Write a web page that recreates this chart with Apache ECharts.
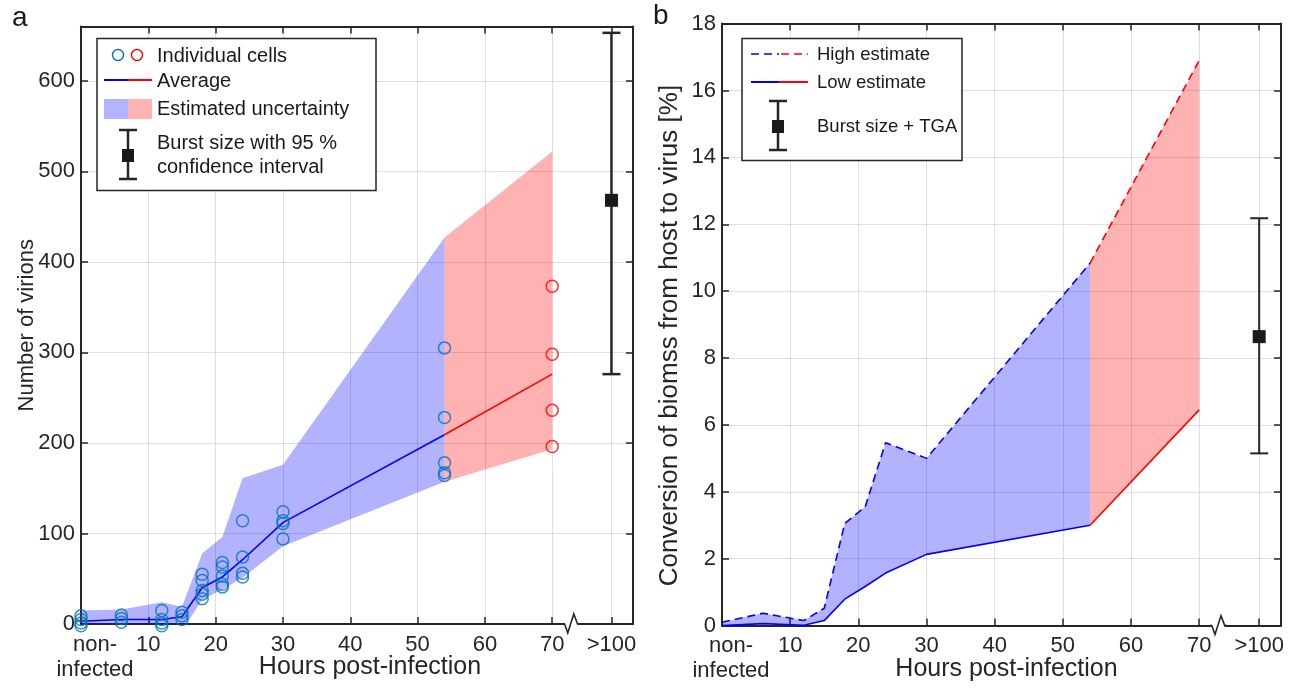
<!DOCTYPE html>
<html><head><meta charset="utf-8">
<script src="https://cdn.jsdelivr.net/npm/echarts@6/dist/echarts.min.js"></script>
<style>html,body{margin:0;padding:0;background:#fff}#c{width:1299px;height:689px}</style>
</head><body><div id="c"></div>
<script>
// ---------- shared axis ticks ----------
const xTicks = [0, 10, 20, 30, 40, 50, 60, 70, 78.8];
const xTickLabels = ['non-\ninfected', '10', '20', '30', '40', '50', '60', '70', '>100'];
const breakX = 72.8;
const yTicksA = [0, 100, 200, 300, 400, 500, 600];
const yTicksB = [0, 2, 4, 6, 8, 10, 12, 14, 16, 18];

// ---------- panel a ----------
const aCellsBlueX = [0,0,0,0, 6,6,6, 12,12,12,12, 15,15,15, 18,18,18,18,18, 21,21,21,21,21, 24,24,24,24, 30,30,30,30, 54,54,54,54,54];
const aCellsBlueY = [9,5,1,-2, 10,6,2, 15,5,1,-2, 13,9,5, 55,48,37,33,28, 68,63,53,44,41, 114,74,56,52, 124,114,111,94, 305,228,178,167,164];
const aCellsRedX = [70, 70, 70, 70];
const aCellsRedY = [373, 298, 236, 196];
const aTimeBlue = [0, 6, 12, 15, 18, 21, 24, 30, 54];
const aAvgBlue = [3, 5, 5, 8, 40, 52, 71, 112, 209];
const aBandBlueLow = [-5, -5, -5, -8, 27, 38, 51, 86, 157];
const aBandBlueHigh = [15, 16, 24, 19, 78, 96, 161, 176, 427];
const aTimeRed = [54, 70];
const aAvgRed = [209, 276];
const aBandRedLow = [157, 193];
const aBandRedHigh = [427, 522];
const aBurst = [78.8, 468, 276, 653]; // x, mean, low, high

// ---------- panel b ----------
const bTimeBlue = [0, 6, 12, 15, 18, 21, 24, 30, 54];
const bHighBlue = [0.1, 0.37, 0.15, 0.52, 3.05, 3.55, 5.47, 5.0, 10.84];
const bLowBlue = [0, 0.06, 0.01, 0.15, 0.79, 1.17, 1.57, 2.13, 3.0];
const bTimeRed = [54, 70];
const bHighRed = [10.84, 16.9];
const bLowRed = [3.0, 6.45];
const bBurst = [78.8, 8.64, 5.15, 12.18];

// ---------- styling ----------
const FONT = 'Liberation Sans, Arial, sans-serif';
const AX = '#262626';
const GRIDC = 'rgba(38,38,38,0.15)';
const BLUE = '#0000ff', RED = '#ff0000';
const CIRC_BLUE = '#0072bd';
const FILL_BLUE = 'rgba(0,0,255,0.3)', FILL_RED = 'rgba(255,0,0,0.3)';

const zip = (xs, ys) => xs.map((x, i) => [x, ys[i]]);

function xAxes(gridIndex, shift, namePad) {
  const fmt = v => {
    const i = xTicks.indexOf(v);
    const t = i >= 0 ? xTickLabels[i] : '';
    return i === 0 ? '{ni|' + t + '}' : t;
  };
  return [{
    type: 'value', gridIndex, position: 'bottom', min: 0, max: 82,
    axisLine: { show: true, onZero: false, lineStyle: { color: AX, width: 2 } },
    axisTick: { show: true, inside: true, length: 7, customValues: xTicks, lineStyle: { color: AX, width: 1.5 } },
    axisLabel: { customValues: xTicks, formatter: fmt, margin: 8, fontSize: 22, color: AX, fontFamily: FONT, lineHeight: 25,
      rich: { ni: { fontSize: 22, color: AX, fontFamily: FONT, lineHeight: 25, padding: [0, 0, 0, shift] } } },
    splitLine: { show: true, lineStyle: { color: GRIDC, width: 1 } },
    name: 'Hours post-infection', nameLocation: 'middle', nameGap: 31, nameMoveOverlap: false,
    nameTextStyle: { fontSize: 25, color: AX, fontFamily: FONT, padding: [0, 0, 0, namePad] }
  }, {
    type: 'value', gridIndex, position: 'top', min: 0, max: 82,
    axisLine: { show: true, onZero: false, lineStyle: { color: AX, width: 2 } },
    axisTick: { show: true, inside: true, length: 7, customValues: xTicks, lineStyle: { color: AX, width: 1.5 } },
    axisLabel: { show: false }, splitLine: { show: false }
  }];
}
function yAxes(gridIndex, max, ticks, name, gap, nameSize, namePadR) {
  return [{
    type: 'value', gridIndex, position: 'left', min: 0, max,
    axisLine: { show: true, onZero: false, lineStyle: { color: AX, width: 2 } },
    axisTick: { show: true, inside: true, length: 7, customValues: ticks, lineStyle: { color: AX, width: 1.5 } },
    axisLabel: { customValues: ticks, margin: 6, fontSize: 22, color: AX, fontFamily: FONT },
    splitLine: { show: true, lineStyle: { color: GRIDC, width: 1 } },
    name, nameLocation: 'middle', nameGap: gap, nameMoveOverlap: false,
    nameTextStyle: { fontSize: nameSize, color: AX, fontFamily: FONT, padding: [0, namePadR, 0, 0] }
  }, {
    type: 'value', gridIndex, position: 'right', min: 0, max,
    axisLine: { show: true, onZero: false, lineStyle: { color: AX, width: 2 } },
    axisTick: { show: true, inside: true, length: 7, customValues: ticks, lineStyle: { color: AX, width: 1.5 } },
    axisLabel: { show: false }, splitLine: { show: false }
  }];
}

// band drawn as one polygon through the axis scales
function bandSeries(xi, yi, xs, lo, hi, fill) {
  return {
    type: 'custom', xAxisIndex: xi, yAxisIndex: yi, data: xs.map((x, i) => [x, lo[i], hi[i]]),
    encode: { x: 0, y: [1, 2] }, clip: true, z: 1, silent: true,
    renderItem(params, api) {
      if (params.dataIndex !== 0) return null;
      const top = xs.map((x, i) => api.coord([x, hi[i]]));
      const bot = xs.map((x, i) => api.coord([x, lo[i]])).reverse();
      return { type: 'polygon', shape: { points: top.concat(bot) }, style: { fill, stroke: null } };
    }
  };
}
function lineSeries(xi, yi, xs, ys, color, dashed) {
  return {
    type: 'line', xAxisIndex: xi, yAxisIndex: yi, data: zip(xs, ys), symbol: 'none',
    lineStyle: { color, width: 1.6, type: dashed ? [8, 5] : 'solid' }, z: 3, silent: true
  };
}
function scatterSeries(xs, ys, color) {
  return {
    type: 'scatter', xAxisIndex: 0, yAxisIndex: 0, data: zip(xs, ys), symbol: 'circle', symbolSize: 12,
    itemStyle: { color: 'rgba(0,0,0,0)', borderColor: color, borderWidth: 1.5 }, clip: false, z: 4, silent: true
  };
}
function burstSeries(xi, yi, b, lw) {
  return {
    type: 'custom', xAxisIndex: xi, yAxisIndex: yi, data: [b], encode: { x: 0, y: 1 }, clip: false, z: 5, silent: true,
    renderItem(params, api) {
      const x = api.value(0);
      const c = api.coord([x, api.value(1)]);
      const lo = api.coord([x, api.value(2)]);
      const hi = api.coord([x, api.value(3)]);
      const cap = 9, s = 6.5;
      const st = { stroke: AX, lineWidth: lw };
      return { type: 'group', children: [
        { type: 'line', shape: { x1: c[0], y1: lo[1], x2: c[0], y2: hi[1] }, style: st },
        { type: 'line', shape: { x1: c[0] - cap, y1: lo[1], x2: c[0] + cap, y2: lo[1] }, style: st },
        { type: 'line', shape: { x1: c[0] - cap, y1: hi[1], x2: c[0] + cap, y2: hi[1] }, style: st },
        { type: 'rect', shape: { x: c[0] - s, y: c[1] - s, width: 2 * s, height: 2 * s }, style: { fill: '#1a1a1a' } }
      ] };
    }
  };
}
function breakSeries(xi, yi) {
  return {
    type: 'custom', xAxisIndex: xi, yAxisIndex: yi, data: [[breakX, 0]], encode: { x: 0, y: 1 }, clip: false, z: 10, silent: true,
    renderItem(params, api) {
      const p = api.coord([api.value(0), api.value(1)]);
      return { type: 'group', children: [
        { type: 'line', shape: { x1: p[0] - 6.5, y1: p[1], x2: p[0] + 6.5, y2: p[1] }, style: { stroke: '#fff', lineWidth: 4 } },
        { type: 'polyline', shape: { points: [[p[0] - 9, p[1]], [p[0] - 6.5, p[1]], [p[0] - 3.3, p[1] + 9], [p[0] + 2.7, p[1] - 10], [p[0] + 6.5, p[1]], [p[0] + 9, p[1]]] },
          style: { stroke: AX, fill: null, lineWidth: 1.6 } }
      ] };
    }
  };
}

// ---------- legends (graphic) ----------
const T = (x, y, text, size) => ({ type: 'text', x, y, style: { text, font: size + 'px ' + FONT, fill: '#1a1a1a', verticalAlign: 'middle', align: 'left' } });
const L = (x1, y1, x2, y2, stroke, w, dash) => ({ type: 'line', shape: { x1, y1, x2, y2 }, style: { stroke, lineWidth: w, lineDash: dash || null } });
function errGlyph(x, yTop, yBot, yc) {
  return [L(x, yTop, x, yBot, AX, 2.5), L(x - 9, yTop, x + 9, yTop, AX, 2.5), L(x - 9, yBot, x + 9, yBot, AX, 2.5),
    { type: 'rect', shape: { x: x - 6, y: yc - 6.5, width: 12, height: 13 }, style: { fill: '#1a1a1a' } }];
}
const graphics = [
  { type: 'text', x: 12, y: 18, style: { text: 'a', font: '28px ' + FONT, fill: '#1a1a1a', verticalAlign: 'middle' } },
  { type: 'text', x: 653, y: 16, style: { text: 'b', font: '28px ' + FONT, fill: '#1a1a1a', verticalAlign: 'middle' } },
  // legend a
  { type: 'rect', shape: { x: 97, y: 38.5, width: 279, height: 152 }, style: { fill: '#fff', stroke: AX, lineWidth: 1.5 }, z: 20 },
  { type: 'circle', shape: { cx: 118, cy: 55, r: 5.5 }, style: { fill: null, stroke: CIRC_BLUE, lineWidth: 1.4 }, z: 21 },
  { type: 'circle', shape: { cx: 137, cy: 55, r: 5.5 }, style: { fill: null, stroke: RED, lineWidth: 1.4 }, z: 21 },
  Object.assign(T(157, 56, 'Individual cells', 20), { z: 21 }),
  Object.assign(L(104, 80, 128, 80, BLUE, 2), { z: 21 }),
  Object.assign(L(128, 80, 152, 80, RED, 2), { z: 21 }),
  Object.assign(T(157, 81, 'Average', 20), { z: 21 }),
  { type: 'rect', shape: { x: 104, y: 99, width: 24, height: 20 }, style: { fill: '#b3b3ff' }, z: 21 },
  { type: 'rect', shape: { x: 128, y: 99, width: 24, height: 20 }, style: { fill: '#ffb3b3' }, z: 21 },
  Object.assign(T(157, 109, 'Estimated uncertainty', 20), { z: 21 }),
  ...errGlyph(128, 130, 179, 155.5).map(g => Object.assign(g, { z: 21 })),
  Object.assign(T(157, 143, 'Burst size with 95 %', 20), { z: 21 }),
  Object.assign(T(157, 167, 'confidence interval', 20), { z: 21 }),
  // legend b
  { type: 'rect', shape: { x: 742, y: 38.5, width: 220, height: 122 }, style: { fill: '#fff', stroke: AX, lineWidth: 1.5 }, z: 20 },
  Object.assign(L(751, 54, 779, 54, BLUE, 1.6, [8, 5]), { z: 21 }),
  Object.assign(L(781, 54, 808, 54, RED, 1.6, [8, 5]), { z: 21 }),
  Object.assign(T(817, 55, 'High estimate', 18.5), { z: 21 }),
  Object.assign(L(751, 82, 779, 82, BLUE, 2), { z: 21 }),
  Object.assign(L(779, 82, 808, 82, RED, 2), { z: 21 }),
  Object.assign(T(817, 83, 'Low estimate', 18.5), { z: 21 }),
  ...errGlyph(778, 101, 150, 126.5).map(g => Object.assign(g, { z: 21 })),
  Object.assign(T(817, 127, 'Burst size + TGA', 18.5), { z: 21 })
];

const chart = echarts.init(document.getElementById('c'));
chart.setOption({
  animation: false,
  backgroundColor: '#fff',
  grid: [
    { left: 81, top: 26.5, width: 552, height: 597.5, outerBoundsMode: 'none', containLabel: false },
    { left: 722, top: 23.6, width: 559, height: 602, outerBoundsMode: 'none', containLabel: false }
  ],
  xAxis: [...xAxes(0, 28, 26), ...xAxes(1, 18, 10)],
  yAxis: [...yAxes(0, 660, yTicksA, 'Number of virions', 43, 22, 0), ...yAxes(1, 18, yTicksB, 'Conversion of biomss from host to virus [%]', 39, 26, 22)],
  series: [
    bandSeries(0, 0, aTimeBlue, aBandBlueLow, aBandBlueHigh, FILL_BLUE),
    bandSeries(0, 0, aTimeRed, aBandRedLow, aBandRedHigh, FILL_RED),
    lineSeries(0, 0, aTimeBlue, aAvgBlue, BLUE, false),
    lineSeries(0, 0, aTimeRed, aAvgRed, RED, false),
    scatterSeries(aCellsBlueX, aCellsBlueY, CIRC_BLUE),
    scatterSeries(aCellsRedX, aCellsRedY, RED),
    burstSeries(0, 0, aBurst, 2.5),
    breakSeries(0, 0),
    bandSeries(2, 2, bTimeBlue, bLowBlue, bHighBlue, FILL_BLUE),
    bandSeries(2, 2, bTimeRed, bLowRed, bHighRed, FILL_RED),
    lineSeries(2, 2, bTimeBlue, bHighBlue, BLUE, true),
    lineSeries(2, 2, bTimeRed, bHighRed, RED, true),
    lineSeries(2, 2, bTimeBlue, bLowBlue, BLUE, false),
    lineSeries(2, 2, bTimeRed, bLowRed, RED, false),
    burstSeries(2, 2, bBurst, 2),
    breakSeries(2, 2)
  ],
  graphic: graphics
});
</script></body></html>
